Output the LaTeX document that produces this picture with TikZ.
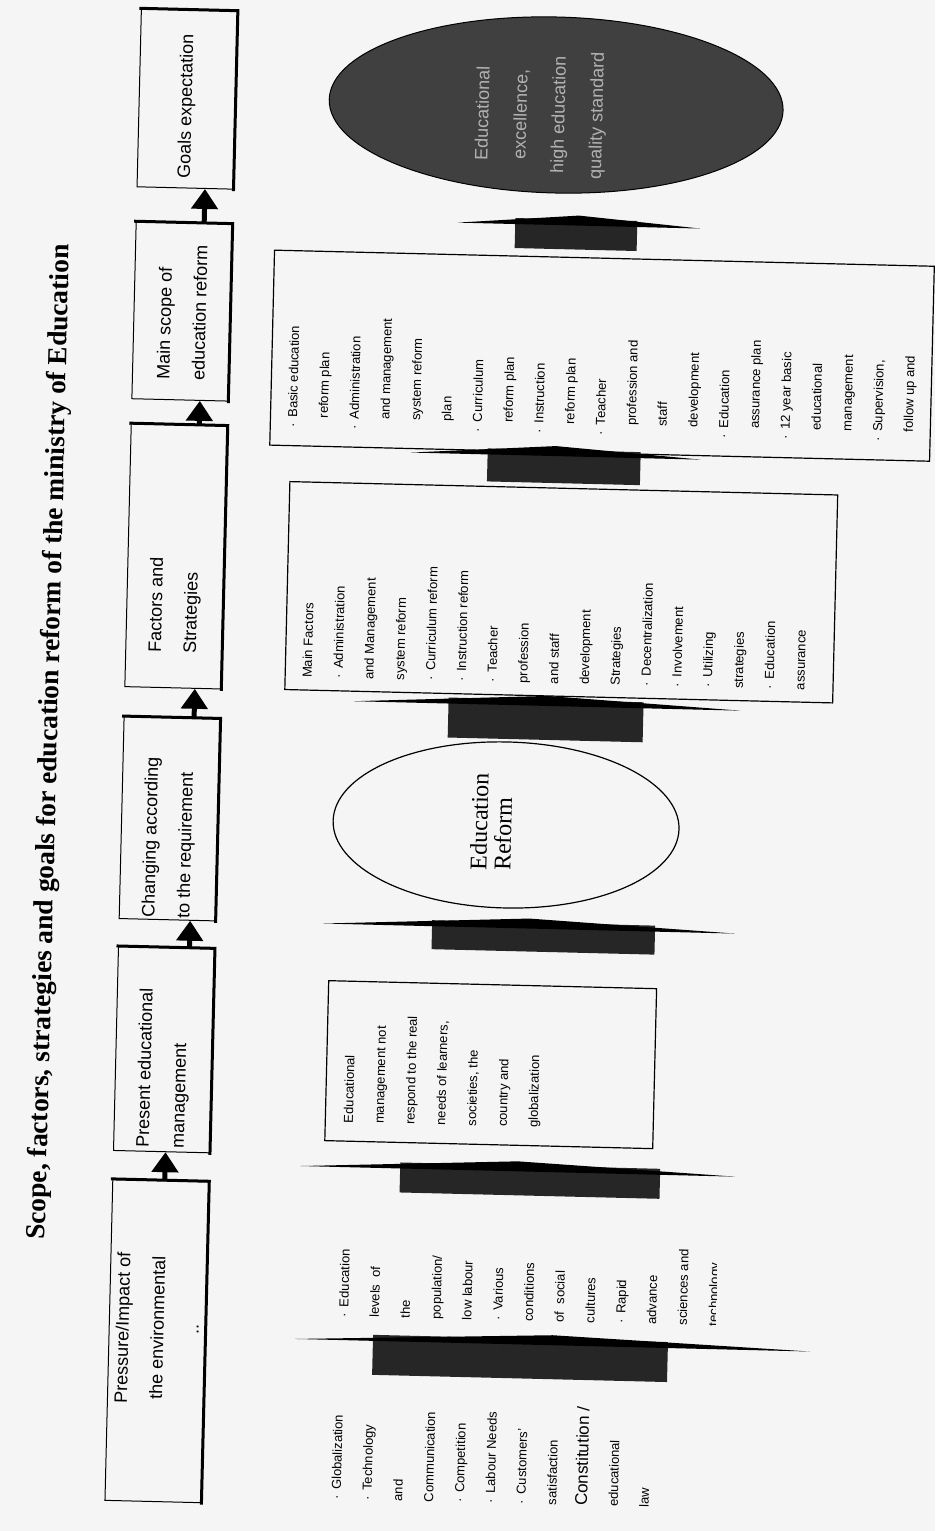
\documentclass[tikz,border=0pt]{standalone}
\usepackage{fontspec}
\setmainfont{Liberation Sans}
\newfontfamily\titlefont{Liberation Serif}
\usetikzlibrary{shapes.geometric,arrows.meta}
\newcommand\bul{\makebox[10pt][l]{·}}
\newcommand\ind{\hspace*{10pt}}

\tikzset{
  topbox/.style = {draw = black, line width = 1pt, rotate = 90, minimum height = 96pt},
  toptext/.style = {rotate = 90, anchor = west, inner sep = 0pt, align = left, font = \fontsize{18}{35}\selectfont},
  listbox/.style = {draw = black, line width = 1.2pt},
  listtext/.style = {rotate = 90, anchor = north west, inner sep = 0pt, align = left, font = \fontsize{13}{30.8}\selectfont},
  boxshadow/.style = {line width = 3pt, line cap = rect},
  flowarrow/.style = {line width = 5pt, -{Triangle[length = 20pt, width = 26pt]}},
}

\begin{document}
\begin{tikzpicture}[x = 1pt, y = -1pt]
\useasboundingbox (0,0) rectangle (935,1531);
\fill[black!4] (0,0) rectangle (935,1531);
\begin{scope}[rotate around = {-1.4:(467.5,765.5)}, transform shape]
\node[rotate = 90, anchor = west, inner sep = 0pt, font = \titlefont\bfseries\fontsize{27.5}{30}\selectfont] (title) at (50,1250) {Scope, factors, strategies and goals for education reform of the ministry of Education};

\node[topbox, minimum width = 321pt] (p1) at (171,1348.5) {};
\node[topbox, minimum width = 204pt] (p2) at (171,1057) {};
\node[topbox, minimum width = 202pt] (p3) at (171,826) {};
\node[topbox, minimum width = 263pt] (p4) at (171,563.5) {};
\node[topbox, minimum width = 177pt] (p5) at (171,318.5) {};
\node[topbox, minimum width = 178pt] (p6) at (171,106) {};
\foreach \b in {1,...,6} \draw[boxshadow] (p\b.south west) -- (p\b.south east) -- (p\b.north east);

\node[toptext, align = center] (t1) at ([yshift = 98pt]p1.west) {Pressure/Impact of\\the environmental\\..};
\node[toptext] (t2) at ([yshift = 4pt]p2.west) {Present educational\\management};
\node[toptext] (t3) at ([yshift = 2pt]p3.west) {Changing according\\to the requirement};
\node[toptext] (t4) at ([yshift = 35pt]p4.west) {Factors and\\Strategies};
\node[toptext] (t5) at ([yshift = 20pt]p5.west) {Main scope of\\education reform};
\node[toptext] (t6) at ([yshift = 10pt]p6.west) {Goals expectation};

\foreach \a/\b/\d in {1/2/4, 2/3/23, 3/4/22, 4/5/20, 5/6/20}
  \draw[flowarrow] ([xshift = \d pt]p\a.east) -- ([xshift = \d pt]p\b.west);

\node[listbox, minimum width = 660pt, minimum height = 195pt] (scope) at (592,352.5) {};
\node[listbox, minimum width = 548pt, minimum height = 208pt] (factors) at (557,590) {};
\node[listbox, minimum width = 328pt, minimum height = 160pt] (present) at (498,1064) {};
\node[ellipse, draw = black, line width = 1.2pt, minimum width = 346pt, minimum height = 166pt] (reform) at (507.5,824) {};
\node[ellipse, draw = black, fill = black!75, line width = 1pt, minimum width = 454pt, minimum height = 176pt] (goals) at (540,103) {};

\foreach \xl/\xr/\ba/\bb/\vt/\vb in {309/824/387/682/1333/1377, 310/745/410/670/1160/1194, 327/739/436/659/917/950, 352/739/447/642/694/738, 403/693/480/633/444/481, 444/687/502/624/213/247}
{
  \fill[black!85] (\ba,\vt+4) rectangle (\bb,\vb);
  \fill[black] (\xl,\vt+10) -- ({(\xl+\xr)/2},\vt) -- (\xr,\vt+10) -- cycle;
}

\node[listtext] (pl) at (349,1503) {\bul Globalization\\\bul Technology\\and\\Communication\\\bul Competition\\\bul Labour Needs\\\bul Customers'\\satisfaction\\{\fontsize{17}{30.8}\selectfont Constitution /}\\educational\\law};
\begin{scope}
\clip (330,1200) rectangle (729,1360);
\node[listtext] (pr) at (352,1320) {\bul Education\\levels\ \ of\\the\\population/\\low labour\\\bul Various\\conditions\\of\ \ social\\cultures\\\bul Rapid\\advance\\sciences and\\technology};
\end{scope}
\node[listtext] (pt) at (352,1126) {Educational\\management not\\respond to the real\\needs of learners,\\societies, the\\country and\\globalization};
\node[listtext, font = \titlefont\fontsize{24}{24}\selectfont] (rt) at (472,870) {Education\\Reform};
\node[listtext] (ft) at (300,682) {Main Factors\\\bul Administration\\and Management\\system reform\\\bul Curriculum reform\\\bul Instruction reform\\\bul Teacher\\profession\\and staff\\development\\Strategies\\\bul Decentralization\\\bul Involvement\\\bul Utilizing\\strategies\\\bul Education\\assurance};
\node[listtext] (st) at (279,432) {\bul Basic education\\\ind reform plan\\\bul Administration\\\ind and management\\\ind system reform\\\ind plan\\\bul Curriculum\\\ind reform plan\\\bul Instruction\\\ind reform plan\\\bul Teacher\\\ind profession and\\\ind staff\\\ind development\\\bul Education\\\ind assurance plan\\\bul 12 year basic\\\ind educational\\\ind management\\\bul Supervision,\\\ind follow up and};
\node[rotate = 90, align = center, inner sep = 0pt, text = black!30, font = \fontsize{18}{38}\selectfont] (gt) at (525,113) {Educational\\excellence,\\high education\\quality standard};
\end{scope}
\end{tikzpicture}
\end{document}
